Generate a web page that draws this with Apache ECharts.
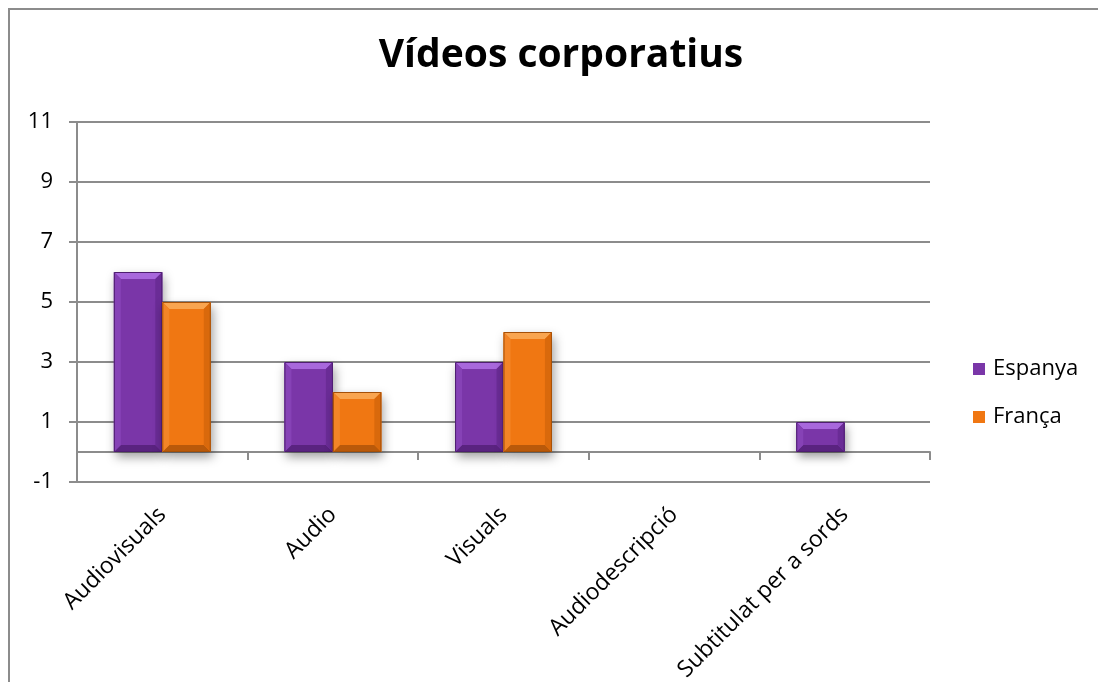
<!DOCTYPE html>
<html>
<head>
<meta charset="utf-8">
<script src="https://cdn.jsdelivr.net/npm/echarts@6/dist/echarts.min.js"></script>
<style>
  html, body { margin: 0; padding: 0; background: #fff; }
  #frame { position: absolute; left: 8px; top: 8px; width: 1200px; height: 800px; border: 2px solid #8c8c8c; box-sizing: border-box; }
  #chart { position: absolute; left: 0; top: 0; width: 1098px; height: 682px; }
</style>
</head>
<body>
<div id="frame"></div>
<div id="chart"></div>
<script>
// Chart data
const titleText = 'Vídeos corporatius';
const categories = ['Audiovisuals', 'Audio', 'Visuals', 'Audiodescripció', 'Subtitulat per a sords'];
const seriesNames = ['Espanya', 'França'];
const espanya = [6, 3, 3, 0, 1];
const franca = [5, 2, 4, 0, 0];
const yTicks = [-1, 1, 3, 5, 7, 9, 11];

// Bevelled bar palette: main face, top bevel, bottom bevel, side bevels, outline
const palettes = [
  { main: '#7a36a8', top: '#a868dc', bottom: '#5a2380', left: '#8642b6', right: '#6a2c96', edge: '#4e1e70' },
  { main: '#f07712', top: '#f9a550', bottom: '#b9590a', left: '#f38527', right: '#d9690c', edge: '#a55008' }
];

const FONT = '"Open Sans", "Noto Sans", sans-serif';

function bevelBar(seriesIdx) {
  return function (params, api) {
    const cat = api.value(0);
    const val = api.value(1);
    if (!val) return null;
    const base = api.coord([cat, 0]);
    const tip = api.coord([cat, val]);
    const catW = api.size([1, 0])[0];
    const w = catW * 0.284;
    const x0 = seriesIdx === 0 ? base[0] - w : base[0];
    const x1 = x0 + w;
    const yTop = Math.min(base[1], tip[1]);
    const yBot = Math.max(base[1], tip[1]);
    const b = Math.min(7, (yBot - yTop) / 2);
    const p = palettes[seriesIdx];
    return {
      type: 'group',
      children: [
        { type: 'rect', shape: { x: x0, y: yTop, width: w, height: yBot - yTop },
          style: { fill: p.main, shadowBlur: 10, shadowOffsetX: 2, shadowOffsetY: 5, shadowColor: 'rgba(0,0,0,0.38)' } },
        { type: 'polygon', shape: { points: [[x0, yTop], [x1, yTop], [x1 - b, yTop + b], [x0 + b, yTop + b]] },
          style: { fill: p.top } },
        { type: 'polygon', shape: { points: [[x0, yBot], [x1, yBot], [x1 - b, yBot - b], [x0 + b, yBot - b]] },
          style: { fill: p.bottom } },
        { type: 'polygon', shape: { points: [[x0, yTop], [x0 + b, yTop + b], [x0 + b, yBot - b], [x0, yBot]] },
          style: { fill: p.left } },
        { type: 'polygon', shape: { points: [[x1, yTop], [x1 - b, yTop + b], [x1 - b, yBot - b], [x1, yBot]] },
          style: { fill: p.right } },
        { type: 'rect', shape: { x: x0 + 0.5, y: yTop + 0.5, width: w - 1, height: yBot - yTop - 1 },
          style: { fill: 'none', stroke: p.edge, lineWidth: 1 } }
      ]
    };
  };
}

const chart = echarts.init(document.getElementById('chart'), null, { renderer: 'canvas' });

chart.setOption({
  backgroundColor: 'transparent',
  animation: false,
  title: {
    text: titleText,
    left: 556,
    textAlign: 'center',
    top: 31,
    textStyle: { fontFamily: FONT, fontSize: 39, fontWeight: 'bold', color: '#000' }
  },
  legend: {
    orient: 'vertical',
    left: 968,
    top: 353,
    itemGap: 26,
    itemWidth: 12,
    itemHeight: 12,
    icon: 'rect',
    data: seriesNames,
    textStyle: { fontFamily: FONT, fontSize: 22, color: '#000', lineHeight: 22, padding: [0, 0, 0, 3] }
  },
  grid: { left: 77, right: 168, top: 122, bottom: 200, containLabel: false, outerBoundsMode: 'none' },
  xAxis: {
    type: 'category',
    data: categories,
    boundaryGap: true,
    axisLine: { onZero: true, lineStyle: { color: '#8c8c8c', width: 2 } },
    axisTick: { show: true, length: 8, lineStyle: { color: '#8c8c8c', width: 2 } },
    axisLabel: {
      interval: 0,
      rotate: 45,
      margin: 29,
      fontFamily: FONT,
      fontSize: 23,
      color: '#000'
    },
    splitLine: { show: false }
  },
  yAxis: {
    type: 'value',
    min: yTicks[0],
    max: yTicks[yTicks.length - 1],
    interval: 2,
    axisLine: { show: true, lineStyle: { color: '#8c8c8c', width: 2 } },
    axisTick: { show: true, length: 8, lineStyle: { color: '#8c8c8c', width: 2 } },
    axisLabel: { margin: 24, fontFamily: FONT, fontSize: 22, color: '#000' },
    splitLine: { show: true, lineStyle: { color: '#8c8c8c', width: 2 } }
  },
  series: [
    {
      name: seriesNames[0],
      type: 'custom',
      itemStyle: { color: palettes[0].main },
      renderItem: bevelBar(0),
      encode: { x: 0, y: 1 },
      data: espanya.map((v, i) => [i, v]),
      z: 3
    },
    {
      name: seriesNames[1],
      type: 'custom',
      itemStyle: { color: palettes[1].main },
      renderItem: bevelBar(1),
      encode: { x: 0, y: 1 },
      data: franca.map((v, i) => [i, v]),
      z: 3
    }
  ]
});
</script>
</body>
</html>
